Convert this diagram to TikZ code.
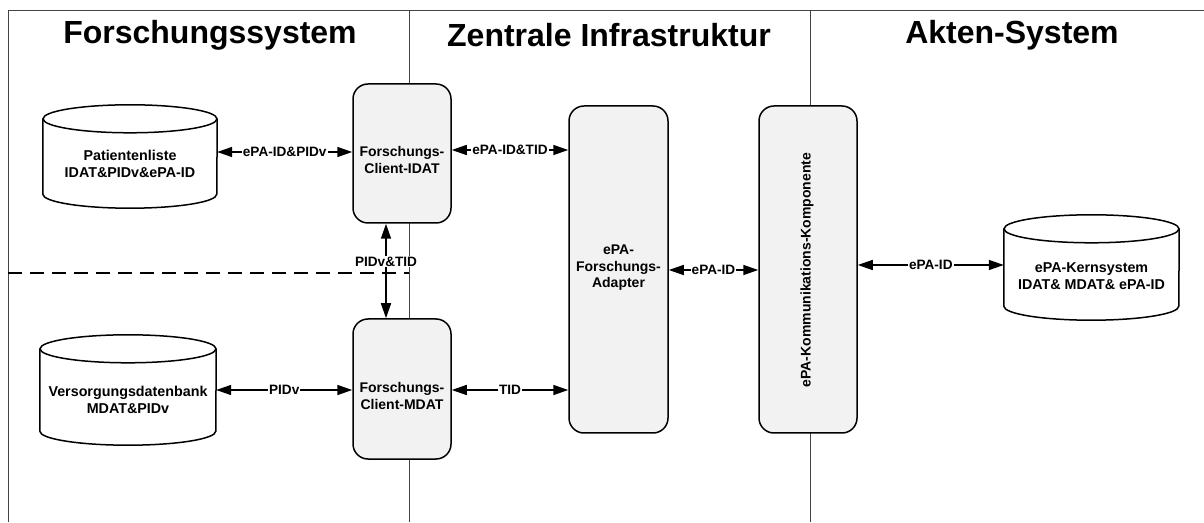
\documentclass[tikz,border=0pt]{standalone}
\usepackage{fontspec}
\setmainfont{Liberation Sans}
\usetikzlibrary{arrows.meta,calc}
\definecolor{boxfill}{HTML}{F2F2F2}
\definecolor{frameline}{HTML}{444444}
\tikzset{
  frame/.style={draw=frameline, line width=1pt},
  procbox/.style={draw, line width=1.5pt, fill=boxfill, rounded corners=15pt, inner sep=0pt},
  cylbound/.style={inner sep=0pt},
  cyltext/.style={font=\fontsize{14.3}{17.5}\selectfont\bfseries, align=center, inner sep=0pt},
  boxtext/.style={font=\fontsize{14}{16.5}\selectfont\bfseries, align=center, inner sep=0pt},
  title/.style={font=\fontsize{32}{36}\selectfont\bfseries, inner sep=0pt},
  conn/.style={line width=1.5pt, {Triangle[length=15pt,width=10pt]}-{Triangle[length=15pt,width=10pt]}},
  lbl/.style={font=\fontsize{13.6}{15}\selectfont\bfseries, fill=white, inner sep=1pt}
}
\newcommand\drawcyl[3]{% name, rx, ry
  \fill[white] ($(#1.north west)+(0,-#3)$) -- ($(#1.south west)+(0,#3)$)
    arc[start angle=180,end angle=360,x radius=#2,y radius=#3]
    -- ($(#1.north east)+(0,-#3)$)
    arc[start angle=0,end angle=180,x radius=#2,y radius=#3] -- cycle;
  \draw[line width=1.5pt] ($(#1.north west)+(0,-#3)$) -- ($(#1.south west)+(0,#3)$)
    arc[start angle=180,end angle=360,x radius=#2,y radius=#3]
    -- ($(#1.north east)+(0,-#3)$);
  \draw[line width=1.5pt] ($(#1.north)+(0,-#3)$) ellipse[x radius=#2,y radius=#3];
}
\begin{document}
\begin{tikzpicture}[x=1pt,y=1pt]
\useasboundingbox (0,0) rectangle (1204,522);
% frame
\coordinate (tl) at (8,511);
\coordinate (tr) at (1204,511);
\coordinate (bl) at (8,0);
\coordinate (d1t) at (409,511);
\coordinate (d1b) at (409,0);
\coordinate (d2t) at (810,511);
\coordinate (d2b) at (810,0);
\draw[frame] (bl) -- (tl) -- (tr);
\draw[frame] (d1t) -- (d1b);
\draw[frame] (d2t) -- (d2b);
% dashed separator
\coordinate (dsl) at (8,249);
\coordinate (dsr) at (409,249);
\draw[line width=1.5pt, dash pattern=on 14pt off 8pt] (dsl) -- (dsr);
% titles
\node[title] (t1) at (210,487) {Forschungssystem};
\node[title] (t2) at (609,487) {Zentrale Infrastruktur};
\node[title] (t3) at (1012,487) {Akten-System};
% process boxes
\node[procbox, minimum width=98pt, minimum height=139pt] (cidat) at (402,368.5) {};
\node[procbox, minimum width=98pt, minimum height=140pt] (cmdat) at (402,133) {};
\node[procbox, minimum width=99pt, minimum height=327pt] (adapt) at (618.5,252.5) {};
\node[procbox, minimum width=98pt, minimum height=327pt] (komp) at (808,252.5) {};
\node[boxtext] (cidatT) at (402,362) {Forschungs-\\Client-IDAT};
\node[boxtext] (cmdatT) at (402,126) {Forschungs-\\Client-MDAT};
\node[boxtext] (adaptT) at (618.5,254) {ePA-\\Forschungs-\\Adapter};
\node[boxtext, rotate=90] (kompT) at (807,252) {ePA-Kommunikations-Komponente};
% cylinders
\node[cylbound, minimum width=174pt, minimum height=103pt] (pat) at (130,365.5) {};
\node[cylbound, minimum width=176pt, minimum height=110pt] (vers) at (128,132) {};
\node[cylbound, minimum width=175pt, minimum height=105pt] (kern) at (1091.5,254.5) {};
\drawcyl{pat}{87}{14}
\drawcyl{vers}{88}{14}
\drawcyl{kern}{87.5}{14}
\node[cyltext] (patT) at (130,358) {Patientenliste\\IDAT\&PIDv\&ePA-ID};
\node[cyltext] (versT) at (128,122) {Versorgungsdatenbank\\MDAT\&PIDv};
\node[cyltext] (kernT) at (1091.5,246) {ePA-Kernsystem\\IDAT\& MDAT\& ePA-ID};
% connectors
\coordinate (y1) at (0,370);
\coordinate (y2) at (0,372);
\coordinate (y3) at (0,132);
\coordinate (y4) at (0,252);
\coordinate (y5) at (0,257);
\coordinate (xv) at (386,0);
\draw[conn] (pat.east |- y1) -- node[lbl] {ePA-ID\&PIDv} (cidat.west |- y1);
\draw[conn] (cidat.east |- y2) -- node[lbl] {ePA-ID\&TID} (adapt.west |- y2);
\draw[conn] (xv |- cidat.south) -- node[lbl, pos=0.4] {PIDv\&TID} (xv |- cmdat.north);
\draw[conn] (vers.east |- y3) -- node[lbl] {PIDv} (cmdat.west |- y3);
\draw[conn] (cmdat.east |- y3) -- node[lbl] {TID} (adapt.west |- y3);
\draw[conn] (adapt.east |- y4) -- node[lbl] {ePA-ID} (komp.west |- y4);
\draw[conn] (komp.east |- y5) -- node[lbl] {ePA-ID} (kern.west |- y5);
\end{tikzpicture}
\end{document}
